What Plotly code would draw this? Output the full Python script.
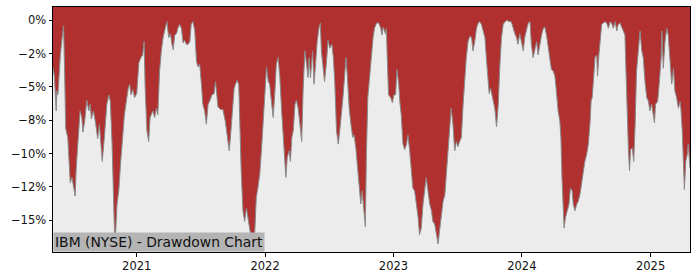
import plotly.graph_objects as go

dates = [
"2020-05-08","2020-05-12","2020-05-17","2020-05-19","2020-05-22","2020-05-26","2020-05-29","2020-06-03","2020-06-07","2020-06-10",
"2020-06-13","2020-06-19","2020-06-26","2020-07-01","2020-07-05","2020-07-10","2020-07-13","2020-07-18","2020-07-24","2020-07-29",
"2020-08-01","2020-08-06","2020-08-12","2020-08-18","2020-08-22","2020-08-25","2020-08-31","2020-09-06","2020-09-12","2020-09-17",
"2020-09-22","2020-09-25","2020-10-01","2020-10-08","2020-10-14","2020-10-18","2020-10-23","2020-10-27","2020-10-31","2020-11-06",
"2020-11-11","2020-11-16","2020-11-21","2020-11-27","2020-12-04","2020-12-08","2020-12-12","2020-12-16","2020-12-21","2020-12-26",
"2021-01-01","2021-01-07","2021-01-13","2021-01-18","2021-01-22","2021-01-25","2021-01-30","2021-02-04","2021-02-08","2021-02-16",
"2021-02-21","2021-02-26","2021-03-02","2021-03-07","2021-03-12","2021-03-17","2021-03-23","2021-03-28","2021-04-02","2021-04-07",
"2021-04-11","2021-04-15","2021-04-19","2021-04-24","2021-04-28","2021-05-03","2021-05-08","2021-05-13","2021-05-17","2021-05-22",
"2021-05-27","2021-06-01","2021-06-05","2021-06-10","2021-06-15","2021-06-20","2021-06-24","2021-06-29","2021-07-04","2021-07-08",
"2021-07-13","2021-07-18","2021-07-23","2021-07-27","2021-08-03","2021-08-09","2021-08-13","2021-08-16","2021-08-20","2021-08-28",
"2021-09-03","2021-09-10","2021-09-16","2021-09-21","2021-09-25","2021-09-30","2021-10-05","2021-10-09","2021-10-13","2021-10-18",
"2021-10-22","2021-10-25","2021-10-30","2021-11-04","2021-11-09","2021-11-13","2021-11-19","2021-11-25","2021-11-29","2021-12-02",
"2021-12-07","2021-12-12","2021-12-17","2021-12-22","2021-12-26","2021-12-31","2022-01-05","2022-01-10","2022-01-14","2022-01-19",
"2022-01-24","2022-01-29","2022-02-02","2022-02-07","2022-02-12","2022-02-17","2022-02-21","2022-02-26","2022-03-01","2022-03-05",
"2022-03-10","2022-03-14","2022-03-18","2022-03-22","2022-03-27","2022-03-31","2022-04-05","2022-04-10","2022-04-15","2022-04-19",
"2022-04-24","2022-04-29","2022-05-03","2022-05-06","2022-05-10","2022-05-16","2022-05-20","2022-05-25","2022-05-29","2022-06-03",
"2022-06-07","2022-06-10","2022-06-15","2022-06-19","2022-06-24","2022-06-29","2022-07-04","2022-07-10","2022-07-14","2022-07-18",
"2022-07-23","2022-07-28","2022-08-02","2022-08-06","2022-08-11","2022-08-16","2022-08-19","2022-08-23","2022-08-28","2022-09-02",
"2022-09-07","2022-09-11","2022-09-16","2022-09-21","2022-09-25","2022-09-30","2022-10-04","2022-10-09","2022-10-13","2022-10-16",
"2022-10-20","2022-10-25","2022-10-30","2022-11-04","2022-11-08","2022-11-14","2022-11-20","2022-11-26","2022-11-29","2022-12-03",
"2022-12-09","2022-12-12","2022-12-14","2022-12-18","2022-12-24","2022-12-29","2023-01-02","2023-01-07","2023-01-11","2023-01-16",
"2023-01-19","2023-01-23","2023-01-28","2023-02-02","2023-02-07","2023-02-11","2023-02-16","2023-02-21","2023-02-25","2023-03-02",
"2023-03-07","2023-03-12","2023-03-16","2023-03-21","2023-03-26","2023-03-31","2023-04-04","2023-04-09","2023-04-14","2023-04-19",
"2023-04-23","2023-04-28","2023-05-03","2023-05-08","2023-05-12","2023-05-17","2023-05-22","2023-05-27","2023-05-31","2023-06-05",
"2023-06-10","2023-06-14","2023-06-19","2023-06-24","2023-06-29","2023-07-03","2023-07-08","2023-07-13","2023-07-18","2023-07-22",
"2023-07-27","2023-08-01","2023-08-06","2023-08-11","2023-08-15","2023-08-20","2023-08-25","2023-08-30","2023-09-03","2023-09-08",
"2023-09-13","2023-09-18","2023-09-22","2023-09-27","2023-09-30","2023-10-04","2023-10-08","2023-10-11","2023-10-16","2023-10-21",
"2023-10-26","2023-10-30","2023-11-04","2023-11-09","2023-11-14","2023-11-20","2023-11-26","2023-12-02","2023-12-07","2023-12-12",
"2023-12-17","2023-12-21","2023-12-26","2023-12-31","2024-01-05","2024-01-09","2024-01-14","2024-01-19","2024-01-24","2024-01-28",
"2024-02-02","2024-02-07","2024-02-12","2024-02-16","2024-02-21","2024-02-26","2024-03-02","2024-03-06","2024-03-11","2024-03-16",
"2024-03-21","2024-03-25","2024-03-30","2024-04-04","2024-04-08","2024-04-13","2024-04-18","2024-04-21","2024-04-24","2024-04-27",
"2024-04-30","2024-05-04","2024-05-09","2024-05-14","2024-05-18","2024-05-23","2024-05-26","2024-05-31","2024-06-05","2024-06-09",
"2024-06-14","2024-06-19","2024-06-24","2024-06-28","2024-07-03","2024-07-08","2024-07-13","2024-07-16","2024-07-19","2024-07-23",
"2024-07-27","2024-08-01","2024-08-03","2024-08-07","2024-08-11","2024-08-15","2024-08-20","2024-08-24","2024-08-29","2024-09-03",
"2024-09-08","2024-09-12","2024-09-17","2024-09-22","2024-09-27","2024-10-01","2024-10-06","2024-10-11","2024-10-15","2024-10-20",
"2024-10-23","2024-10-26","2024-10-30","2024-11-02","2024-11-05","2024-11-10","2024-11-14","2024-11-18","2024-11-22","2024-11-27",
"2024-12-02","2024-12-07","2024-12-11","2024-12-16","2024-12-21","2024-12-26","2024-12-30","2025-01-04","2025-01-09","2025-01-12",
"2025-01-15","2025-01-21","2025-01-26","2025-01-31","2025-02-02","2025-02-06","2025-02-11","2025-02-16","2025-02-20","2025-02-25",
"2025-03-02","2025-03-07","2025-03-11","2025-03-16","2025-03-21","2025-03-26","2025-03-28","2025-04-01","2025-04-05","2025-04-07",
"2025-04-11","2025-04-15","2025-04-18","2025-04-21","2025-04-23",
]

drawdown = [
-3.6,-4.2,-6.8,-5.3,-5.6,-3.8,-2.6,-1.3,-0.4,-3.8,
-8.1,-8.8,-12.2,-11.8,-12.5,-13.2,-11.1,-8.8,-6.8,-7.3,
-8.4,-7.6,-6.0,-6.8,-6.3,-7.4,-6.8,-7.7,-8.9,-7.8,
-9.3,-10.6,-8.8,-6.3,-5.6,-6.1,-9.3,-12.8,-17.1,-13.8,
-12.8,-10.8,-8.8,-7.1,-5.8,-5.1,-4.8,-5.6,-5.2,-5.8,
-5.5,-3.2,-2.8,-2.6,-1.6,-5.1,-8.3,-9.1,-7.3,-6.8,
-7.3,-6.6,-7.1,-3.8,-2.3,-1.3,-0.6,-0.1,-1.3,-1.0,
-1.8,-2.2,-1.1,-1.0,-0.6,-0.3,-0.6,-1.7,-1.5,-1.8,
-1.8,-1.6,-0.3,-0.1,-0.8,-3.1,-3.5,-3.3,-4.8,-6.3,
-6.8,-7.8,-6.3,-6.1,-5.6,-5.5,-4.6,-5.6,-6.5,-6.7,
-6.7,-7.6,-8.8,-9.8,-8.6,-6.8,-5.1,-4.8,-4.5,-4.8,
-9.3,-11.3,-14.3,-15.1,-14.1,-14.8,-15.8,-16.3,-17.2,-16.3,
-13.3,-12.5,-11.5,-9.6,-7.6,-5.6,-3.5,-4.6,-4.8,-6.1,
-7.3,-5.3,-3.3,-2.8,-4.3,-6.8,-8.8,-10.8,-11.8,-10.3,
-9.8,-10.6,-8.8,-8.3,-6.3,-6.0,-6.6,-7.8,-9.1,-5.3,
-2.3,-3.3,-4.3,-2.8,-4.3,-2.3,-4.8,-3.1,-1.6,-0.6,
-0.2,-2.3,-3.8,-4.6,-3.3,-1.5,-2.1,-1.8,-2.8,-4.6,
-8.3,-9.3,-8.1,-7.1,-5.6,-3.8,-2.8,-4.3,-6.6,-7.8,
-8.8,-8.6,-9.6,-11.1,-12.1,-13.8,-12.8,-14.3,-15.5,-10.1,
-5.8,-4.3,-2.6,-1.3,-0.6,-0.2,-0.2,-0.6,-1.1,-0.5,
-1.0,-0.6,-2.6,-5.6,-5.8,-6.2,-5.6,-5.6,-3.7,-4.8,
-6.1,-7.1,-9.3,-9.7,-9.3,-8.6,-9.8,-11.6,-12.6,-12.8,
-13.8,-14.8,-16.1,-15.6,-13.8,-12.6,-11.8,-12.8,-13.8,-14.3,
-15.1,-15.3,-16.1,-16.8,-15.8,-14.6,-13.6,-13.1,-11.8,-10.1,
-8.3,-6.6,-7.8,-9.8,-9.1,-9.5,-9.1,-8.8,-6.3,-4.3,
-2.8,-1.6,-1.2,-1.3,-2.3,-1.6,-0.6,-0.2,-0.1,-0.3,
-0.8,-1.3,-2.8,-4.6,-5.5,-5.1,-5.6,-6.1,-6.6,-8.0,
-6.3,-3.6,-1.3,-0.3,-0.1,0.0,-0.1,-0.1,-0.6,-1.0,
-1.3,-1.8,-1.0,-1.6,-2.3,-1.3,-0.6,-0.2,-0.1,-1.8,
-2.8,-2.1,-1.6,-2.6,-1.8,-1.1,-0.6,-0.5,-1.1,-2.1,
-3.3,-3.7,-3.8,-4.2,-5.3,-6.8,-7.6,-8.8,-11.8,-13.8,
-15.6,-14.8,-14.3,-13.8,-12.6,-12.8,-13.8,-14.3,-13.8,-13.6,
-13.1,-12.1,-11.3,-10.6,-10.1,-9.3,-7.6,-6.0,-5.8,-4.6,
-2.8,-2.6,-4.2,-2.6,-1.3,-0.3,-0.2,-0.1,-0.2,-0.6,
-0.1,-0.2,-0.6,-0.1,-0.8,-0.3,-0.2,-0.5,-0.8,-1.1,
-3.8,-6.8,-9.8,-11.3,-9.7,-9.6,-10.6,-7.8,-3.8,-2.3,
-0.8,-2.3,-2.8,-4.6,-5.8,-6.1,-6.8,-6.3,-7.1,-7.7,
-6.3,-6.1,-4.6,-2.8,-0.8,-3.6,-1.6,-0.6,-1.1,-3.3,
-4.8,-3.6,-5.3,-5.8,-6.6,-6.1,-6.6,-8.3,-11.8,-12.7,
-10.6,-10.1,-9.3,-10.8,-11.1,
]

y_tickvals = [0, -2.5, -5, -7.5, -10, -12.5, -15]
y_ticktext = ["0%", "\u22122%", "\u22125%", "\u22128%", "\u221210%", "\u221212%", "\u221215%"]
x_tickvals = ["2021-01-01", "2022-01-01", "2023-01-01", "2024-01-01", "2025-01-01"]
x_ticktext = ["2021", "2022", "2023", "2024", "2025"]
title_text = "IBM (NYSE) - Drawdown Chart"

Y_TOP = 1.0
Y_BOTTOM = -17.4
RED = "#b03030"
BG = "#ececec"

fig = go.Figure()
fig.add_trace(go.Scatter(x=dates, y=[Y_TOP] * len(dates), mode="lines",
                         line=dict(width=0, color=RED), hoverinfo="skip", showlegend=False))
fig.add_trace(go.Scatter(x=dates, y=drawdown, mode="lines", fill="tonexty",
                         fillcolor=RED, line=dict(width=1, color="#8a8a8a"),
                         showlegend=False))

axis_common = dict(showline=True, linecolor="black", linewidth=1, mirror=True,
                   ticks="outside", ticklen=3.5, tickwidth=1, tickcolor="black",
                   showgrid=False, zeroline=False,
                   tickfont=dict(family="DejaVu Sans", size=11.5, color="#111"))

fig.update_xaxes(range=[dates[0], dates[-1]], tickvals=x_tickvals, ticktext=x_ticktext, **axis_common)
fig.update_yaxes(range=[Y_BOTTOM, Y_TOP], tickvals=y_tickvals, ticktext=y_ticktext, **axis_common)

fig.add_annotation(text=title_text, xref="paper", yref="paper", x=0, y=0,
                   xanchor="left", yanchor="bottom", showarrow=False,
                   bgcolor="#b4b4b4", borderpad=1,
                   font=dict(family="DejaVu Sans", size=13.9, color="#111"))

fig.update_layout(width=700, height=280, margin=dict(l=53, r=10, t=7, b=28),
                  plot_bgcolor=BG, paper_bgcolor="white")

fig.write_html("out.html")
